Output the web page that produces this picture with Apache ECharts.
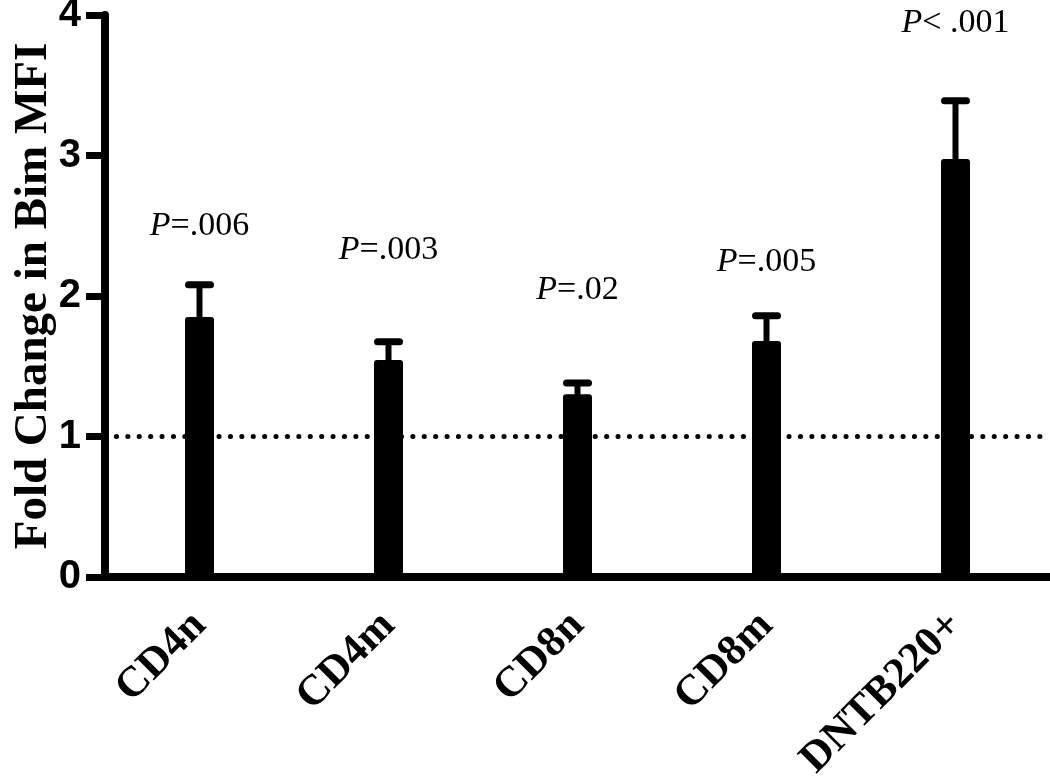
<!DOCTYPE html>
<html>
<head>
<meta charset="utf-8">
<script src="https://cdn.jsdelivr.net/npm/echarts@6/dist/echarts.min.js"></script>
<style>
html,body{margin:0;padding:0;background:#fff;}
#chart{width:1050px;height:777px;}
</style>
</head>
<body>
<div id="chart"></div>
<script>
// ---- data ----
const categories = ['CD4n', 'CD4m', 'CD8n', 'CD8m', 'DNTB220+'];
const foldChange = [1.85, 1.545, 1.30, 1.68, 2.975];
const sem = [0.23, 0.13, 0.08, 0.18, 0.415];
const pOp = ['=', '=', '=', '=', '< '];
const pValue = ['.006', '.003', '.02', '.005', '.001'];
const pLabelLevel = [2.50, 2.33, 2.04, 2.24, 3.94];
const yTicks = [0, 1, 2, 3, 4];
const baseline = 1;

const serif = '"Liberation Serif", "Times New Roman", serif';
const sans = '"Liberation Sans", Arial, sans-serif';

const chart = echarts.init(document.getElementById('chart'), null, {renderer: 'canvas'});

const option = {
  animation: false,
  backgroundColor: '#fff',
  grid: {left: 105, right: 0, top: 15, bottom: 200, containLabel: false, outerBoundsMode: 'none'},
  xAxis: {
    type: 'category',
    data: categories,
    axisLine: {lineStyle: {color: '#000', width: 8}},
    axisTick: {alignWithLabel: true, length: 19, lineStyle: {color: '#000', width: 9}},
    axisLabel: {
      rotate: 45, margin: 42, color: '#000',
      fontFamily: serif, fontWeight: 'bold', fontSize: 43, interval: 0
    }
  },
  yAxis: {
    type: 'value',
    min: yTicks[0], max: yTicks[yTicks.length - 1], interval: 1,
    name: 'Fold Change in Bim MFI',
    nameLocation: 'middle',
    nameGap: 48,
    nameMoveOverlap: false,
    nameRotate: 90,
    nameTextStyle: {fontFamily: serif, fontWeight: 'bold', fontSize: 47, color: '#000'},
    axisLine: {show: true, lineStyle: {color: '#000', width: 8}},
    axisTick: {show: true, length: 19, lineStyle: {color: '#000', width: 7}},
    axisLabel: {margin: 24, color: '#000', fontFamily: sans, fontWeight: 'bold', fontSize: 40},
    splitLine: {show: false}
  },
  series: [
    {
      type: 'bar',
      data: foldChange,
      barWidth: 29,
      itemStyle: {color: '#000', borderRadius: 3},
      z: 3,
      markLine: {
        silent: true,
        symbol: ['none', 'none'],
        label: {show: false},
        lineStyle: {color: '#000', width: 5, type: [0.1, 11.3], cap: 'round'},
        data: [{yAxis: baseline}],
        z: 1
      }
    },
    {
      type: 'custom',
      z: 4,
      data: foldChange.map((v, i) => [i, v, v + sem[i]]),
      renderItem: function (params, api) {
        const i = api.value(0);
        const lo = api.coord([i, api.value(1)]);
        const hi = api.coord([i, api.value(2)]);
        return {
          type: 'group',
          children: [
            {type: 'line', shape: {x1: lo[0], y1: lo[1] + 2, x2: hi[0], y2: hi[1]},
             style: {stroke: '#000', lineWidth: 6}},
            {type: 'line', shape: {x1: hi[0] - 11, y1: hi[1], x2: hi[0] + 11, y2: hi[1]},
             style: {stroke: '#000', lineWidth: 7, lineCap: 'round'}}
          ]
        };
      }
    },
    {
      type: 'custom',
      z: 5,
      data: pLabelLevel.map((v, i) => [i, v]),
      renderItem: function (params, api) {
        const i = params.dataIndex;
        const p = api.coord([api.value(0), api.value(1)]);
        return {
          type: 'text',
          x: p[0], y: p[1],
          style: {
            text: '{it|P}{rg|' + pOp[i] + pValue[i] + '}',
            align: 'center', verticalAlign: 'middle',
            rich: {
              it: {fontFamily: serif, fontStyle: 'italic', fontSize: 34, fill: '#000'},
              rg: {fontFamily: serif, fontSize: 34, fill: '#000'}
            }
          }
        };
      }
    }
  ]
};
chart.setOption(option);
</script>
</body>
</html>
